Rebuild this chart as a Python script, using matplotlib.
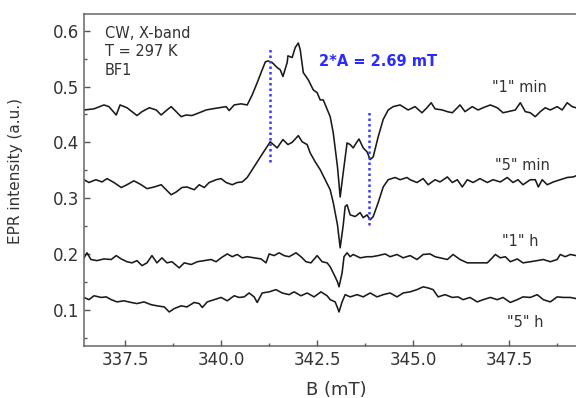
import numpy as np
import matplotlib.pyplot as plt
from matplotlib.ticker import MultipleLocator, FormatStrFormatter

# --- data (B in mT, intensity in a.u.) ---
b_1min = [336.43, 336.69, 336.95, 337.08, 337.27, 337.37, 337.55, 337.81, 337.94, 338.13,
          338.31, 338.44, 338.59, 338.70, 338.83, 338.96, 339.09, 339.24, 339.43, 339.61,
          339.77, 339.95, 340.13, 340.21, 340.34, 340.52, 340.68, 340.81, 340.94, 341.07,
          341.15, 341.22, 341.33, 341.46, 341.54, 341.61, 341.72, 341.74, 341.85, 341.93,
          342.01, 342.06, 342.14, 342.27, 342.40, 342.50, 342.58, 342.66, 342.84, 342.92,
          343.03, 343.10, 343.18, 343.28, 343.36, 343.44, 343.52, 343.59, 343.70, 343.80,
          343.88, 343.96, 344.09, 344.22, 344.35, 344.48, 344.66, 344.87, 345.05, 345.23,
          345.36, 345.47, 345.57, 345.76, 345.89, 346.02, 346.15, 346.22, 346.35, 346.54,
          346.69, 346.82, 347.01, 347.19, 347.34, 347.47, 347.66, 347.79, 347.92, 348.05,
          348.18, 348.31, 348.44, 348.57, 348.75, 348.88, 349.01, 349.14, 349.24]
i_1min = [0.458, 0.460, 0.467, 0.464, 0.449, 0.467, 0.462, 0.448, 0.455, 0.462,
          0.458, 0.449, 0.458, 0.464, 0.455, 0.446, 0.449, 0.448, 0.453, 0.458,
          0.460, 0.462, 0.464, 0.457, 0.467, 0.469, 0.467, 0.485, 0.507, 0.530,
          0.544, 0.546, 0.543, 0.534, 0.530, 0.518, 0.543, 0.555, 0.552, 0.570,
          0.578, 0.566, 0.525, 0.512, 0.494, 0.489, 0.476, 0.476, 0.446, 0.417,
          0.356, 0.302, 0.346, 0.399, 0.396, 0.390, 0.399, 0.406, 0.390, 0.383,
          0.369, 0.374, 0.410, 0.441, 0.458, 0.464, 0.467, 0.458, 0.464, 0.453,
          0.462, 0.471, 0.460, 0.458, 0.455, 0.453, 0.462, 0.467, 0.455, 0.464,
          0.458, 0.462, 0.467, 0.462, 0.453, 0.455, 0.458, 0.471, 0.455, 0.453,
          0.446, 0.455, 0.462, 0.458, 0.464, 0.458, 0.471, 0.464, 0.462]

b_5min = [336.43, 336.56, 336.74, 336.90, 337.03, 337.21, 337.40, 337.55, 337.73, 337.92,
          338.07, 338.26, 338.44, 338.57, 338.70, 338.83, 338.98, 339.11, 339.30, 339.43,
          339.56, 339.69, 339.87, 340.00, 340.13, 340.29, 340.42, 340.55, 340.68, 340.81,
          341.09, 341.28, 341.46, 341.61, 341.74, 341.85, 342.01, 342.11, 342.24, 342.32,
          342.45, 342.58, 342.71, 342.84, 342.92, 343.03, 343.10, 343.18, 343.23, 343.28,
          343.36, 343.49, 343.62, 343.70, 343.80, 343.88, 343.96, 344.09, 344.22, 344.35,
          344.53, 344.66, 344.84, 344.92, 345.10, 345.26, 345.39, 345.57, 345.70, 345.89,
          346.02, 346.15, 346.28, 346.41, 346.56, 346.74, 346.93, 347.08, 347.27, 347.45,
          347.60, 347.73, 347.86, 348.05, 348.18, 348.26, 348.36, 348.49, 348.65, 348.83,
          349.01, 349.17, 349.24]
i_5min = [0.333, 0.328, 0.333, 0.329, 0.335, 0.328, 0.319, 0.324, 0.331, 0.324,
          0.317, 0.320, 0.324, 0.315, 0.306, 0.311, 0.319, 0.320, 0.315, 0.324,
          0.319, 0.328, 0.333, 0.335, 0.328, 0.324, 0.328, 0.329, 0.337, 0.351,
          0.381, 0.401, 0.390, 0.405, 0.396, 0.400, 0.412, 0.401, 0.396, 0.381,
          0.365, 0.351, 0.333, 0.315, 0.292, 0.252, 0.211, 0.252, 0.285, 0.288,
          0.270, 0.267, 0.274, 0.265, 0.270, 0.261, 0.267, 0.292, 0.320, 0.333,
          0.337, 0.333, 0.337, 0.333, 0.328, 0.335, 0.324, 0.333, 0.329, 0.338,
          0.328, 0.333, 0.320, 0.333, 0.328, 0.335, 0.328, 0.333, 0.329, 0.337,
          0.328, 0.333, 0.324, 0.333, 0.333, 0.320, 0.333, 0.324, 0.329, 0.333,
          0.337, 0.338, 0.340]

b_1h = [336.43, 336.51, 336.61, 336.77, 336.95, 337.14, 337.27, 337.40, 337.55, 337.68,
        337.81, 337.94, 338.07, 338.20, 338.33, 338.46, 338.59, 338.72, 338.91, 339.04,
        339.22, 339.38, 339.56, 339.74, 339.87, 340.00, 340.16, 340.29, 340.42, 340.55,
        340.68, 340.86, 341.04, 341.17, 341.25, 341.38, 341.51, 341.64, 341.77, 341.95,
        342.08, 342.21, 342.34, 342.50, 342.63, 342.76, 342.84, 342.92, 343.03, 343.07,
        343.15, 343.20, 343.28, 343.36, 343.44, 343.62, 343.80, 343.93, 344.09, 344.27,
        344.40, 344.58, 344.74, 344.92, 345.10, 345.26, 345.44, 345.57, 345.70, 345.89,
        346.04, 346.22, 346.41, 346.56, 346.74, 346.93, 347.06, 347.14, 347.27, 347.40,
        347.53, 347.71, 347.86, 348.05, 348.23, 348.39, 348.57, 348.75, 348.83, 348.96,
        349.09, 349.24]
i_1h = [0.193, 0.202, 0.190, 0.188, 0.191, 0.190, 0.197, 0.191, 0.186, 0.184,
        0.188, 0.179, 0.184, 0.197, 0.184, 0.193, 0.184, 0.186, 0.175, 0.184,
        0.181, 0.186, 0.188, 0.190, 0.186, 0.193, 0.200, 0.195, 0.199, 0.193,
        0.195, 0.193, 0.191, 0.184, 0.200, 0.197, 0.202, 0.197, 0.195, 0.202,
        0.195, 0.186, 0.184, 0.197, 0.186, 0.184, 0.177, 0.166, 0.150, 0.141,
        0.166, 0.195, 0.202, 0.195, 0.199, 0.193, 0.195, 0.195, 0.197, 0.200,
        0.195, 0.199, 0.193, 0.197, 0.190, 0.199, 0.200, 0.195, 0.193, 0.190,
        0.199, 0.190, 0.184, 0.184, 0.184, 0.184, 0.193, 0.199, 0.193, 0.195,
        0.186, 0.191, 0.184, 0.186, 0.188, 0.190, 0.186, 0.190, 0.199, 0.195,
        0.199, 0.197]

b_5h = [336.43, 336.56, 336.69, 336.88, 337.01, 337.14, 337.29, 337.47, 337.66, 337.81,
        337.99, 338.18, 338.33, 338.52, 338.65, 338.78, 338.96, 339.11, 339.30, 339.43,
        339.51, 339.64, 339.82, 340.00, 340.16, 340.34, 340.47, 340.60, 340.73, 340.86,
        340.94, 341.07, 341.25, 341.43, 341.59, 341.77, 341.90, 342.08, 342.24, 342.42,
        342.60, 342.76, 342.84, 342.97, 343.05, 343.07, 343.15, 343.23, 343.36, 343.54,
        343.70, 343.88, 344.06, 344.22, 344.40, 344.58, 344.74, 344.92, 345.10, 345.26,
        345.39, 345.52, 345.65, 345.83, 346.02, 346.17, 346.30, 346.48, 346.67, 346.82,
        347.01, 347.19, 347.34, 347.53, 347.71, 347.86, 348.05, 348.23, 348.39, 348.57,
        348.75, 348.91, 349.09, 349.24]
i_5h = [0.122, 0.118, 0.125, 0.122, 0.123, 0.118, 0.114, 0.116, 0.113, 0.111,
        0.114, 0.109, 0.107, 0.105, 0.096, 0.102, 0.107, 0.105, 0.113, 0.111,
        0.104, 0.114, 0.118, 0.122, 0.116, 0.125, 0.122, 0.123, 0.130, 0.123,
        0.113, 0.130, 0.132, 0.136, 0.130, 0.127, 0.132, 0.125, 0.130, 0.123,
        0.132, 0.125, 0.118, 0.114, 0.100, 0.096, 0.114, 0.127, 0.123, 0.127,
        0.123, 0.130, 0.123, 0.127, 0.130, 0.123, 0.130, 0.132, 0.136, 0.141,
        0.139, 0.136, 0.123, 0.127, 0.122, 0.123, 0.118, 0.122, 0.114, 0.118,
        0.122, 0.118, 0.122, 0.113, 0.118, 0.123, 0.122, 0.127, 0.118, 0.114,
        0.123, 0.122, 0.122, 0.120]

# hyperfine markers: field position and vertical extent
marker_b = [341.28, 343.85]
marker_lo = [0.365, 0.252]
marker_hi = [0.567, 0.455]

trace_labels = ['"1" min', '"5" min', '"1" h', '"5" h']
label_pos = [(347.78, 0.498), (347.84, 0.358), (347.79, 0.222), (347.92, 0.077)]

txt_col = '#333333'

fig = plt.figure(figsize=(5.76, 3.98), dpi=100)
ax = fig.add_axes([0.1458, 0.1307, 0.8542, 0.8341])

for b, i in [(b_1min, i_1min), (b_5min, i_5min), (b_1h, i_1h), (b_5h, i_5h)]:
    ax.plot(b, i, color='#1a1a1a', lw=1.15)

for xb, lo, hi in zip(marker_b, marker_lo, marker_hi):
    ax.plot([xb, xb], [lo, hi], color='#3a3aff', lw=1.8, ls=(0, (1, 1.2)))

ax.text(344.09, 0.544, '2*A = 2.69 mT', color='#2b2bff', fontsize=10.5,
        fontweight='bold', ha='center', va='center')

ax.text(336.98, 0.562, 'CW, X-band\nT = 297 K\nBF1', color=txt_col, fontsize=10.5,
        ha='left', va='center', linespacing=1.3)

for lab, (xl, yl) in zip(trace_labels, label_pos):
    ax.text(xl, yl, lab, color=txt_col, fontsize=10.5, ha='center', va='center')

ax.set_xlim(336.43, 349.24)
ax.set_ylim(0.035, 0.63)
ax.xaxis.set_major_locator(MultipleLocator(2.5))
ax.xaxis.set_minor_locator(MultipleLocator(1.25))
ax.yaxis.set_major_locator(MultipleLocator(0.1))
ax.yaxis.set_minor_locator(MultipleLocator(0.05))
ax.xaxis.set_major_formatter(FormatStrFormatter('%.1f'))
ax.yaxis.set_major_formatter(FormatStrFormatter('%.1f'))
ax.tick_params(which='both', direction='in', colors='#555555', labelcolor=txt_col,
               labelsize=12, width=1)
ax.tick_params(which='major', length=4)
ax.tick_params(which='minor', length=2.5)
ax.spines['right'].set_visible(False)
for s in ['left', 'bottom', 'top']:
    ax.spines[s].set_color('#666666')
    ax.spines[s].set_linewidth(1.1)

ax.set_xlabel('B (mT)', fontsize=13, color=txt_col)
ax.xaxis.set_label_coords(0.512, -0.105)
ax.set_ylabel('EPR intensity (a.u.)', fontsize=11, color=txt_col)
ax.yaxis.set_label_coords(-0.124, 0.527)

fig.savefig('out.png', dpi=100)
